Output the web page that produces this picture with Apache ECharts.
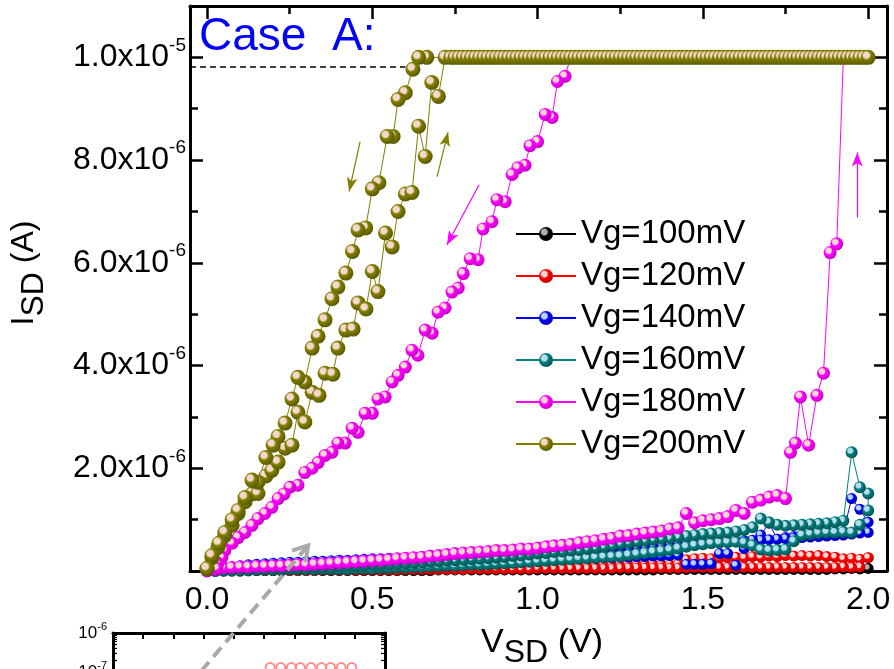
<!DOCTYPE html>
<html><head><meta charset="utf-8">
<script src="https://cdn.jsdelivr.net/npm/echarts@6/dist/echarts.min.js"></script>
<style>html,body{margin:0;padding:0;background:#fff}#c{width:894px;height:669px}</style>
</head><body><div id="c"></div>
<script>
const FONT = 'Liberation Sans, Arial, sans-serif';

// Source-drain voltage sweep grid (V)
const vSweep = [0,0.025,0.05,0.075,0.1,0.125,0.15,0.175,0.2,0.225,0.25,0.275,0.3,0.325,0.35,0.375,0.4,0.425,0.45,0.475,0.5,0.525,0.55,0.575,0.6,0.625,0.65,0.675,0.7,0.725,0.75,0.775,0.8,0.825,0.85,0.875,0.9,0.925,0.95,0.975,1.0,1.025,1.05,1.075,1.1,1.125,1.15,1.175,1.2,1.225,1.25,1.275,1.3,1.325,1.35,1.375,1.4,1.425,1.45,1.475,1.5,1.525,1.55,1.575,1.6,1.625,1.65,1.675,1.7,1.725,1.75,1.775,1.8,1.825,1.85,1.875,1.9,1.925,1.95,1.975,2.0];

const seriesNames = ['Vg=100mV','Vg=120mV','Vg=140mV','Vg=160mV','Vg=180mV','Vg=200mV'];
const xTickLabels = [0, 0.5, 1.0, 1.5, 2.0];
const xMinorTicks = [0.25, 0.75, 1.25, 1.75];
const yTickLabels = [2, 4, 6, 8, 10];   // currents in units of 1e-6 A
const yMinorTicks = [1, 3, 5, 7, 9];

// Currents (units of 1e-6 A) on vSweep
const blackI = [0,0,0,0,0,0.01,0.01,0.01,0.01,0.01,
  0.01,0.01,0.01,0.01,0.01,0.01,0.01,0.01,0.01,0.01,
  0.01,0.01,0.01,0.01,0.01,0.01,0.01,0.01,0.02,0.02,
  0.02,0.02,0.02,0.02,0.02,0.02,0.02,0.02,0.02,0.02,
  0.02,0.02,0.02,0.02,0.02,0.02,0.02,0.02,0.02,0.02,
  0.02,0.02,0.02,0.02,0.02,0.03,0.03,0.03,0.03,0.03,
  0.03,0.03,0.03,0.03,0.03,0.03,0.03,0.03,0.03,0.03,
  0.03,0.03,0.03,0.03,0.03,0.03,0.04,0.04,0.05,0.04,0.05];
const redFwdI = [0,0.01,0.01,0.01,0.01,0.01,0.02,0.02,0.02,0.02,
  0.02,0.02,0.03,0.03,0.03,0.03,0.03,0.03,0.04,0.04,
  0.04,0.04,0.04,0.04,0.05,0.05,0.05,0.05,0.05,0.05,
  0.06,0.06,0.06,0.06,0.06,0.06,0.07,0.07,0.07,0.07,
  0.08,0.08,0.08,0.08,0.09,0.09,0.09,0.09,0.10,0.10,
  0.10,0.11,0.11,0.11,0.12,0.12,0.12,0.13,0.22,0.24,
  0.25,0.24,0.25,0.26,0.27,0.26,0.28,0.27,0.29,0.28,
  0.30,0.29,0.30,0.29,0.30,0.28,0.27,0.24,0.25,0.23,0.26];
const redRevI = [0,0,0.01,0.01,0.01,0.01,0.01,0.01,0.01,0.01,
  0.01,0.01,0.01,0.01,0.02,0.02,0.02,0.02,0.02,0.02,
  0.02,0.02,0.02,0.02,0.03,0.03,0.03,0.03,0.03,0.03,
  0.03,0.03,0.04,0.04,0.04,0.04,0.04,0.04,0.04,0.04,
  0.05,0.05,0.05,0.05,0.05,0.05,0.05,0.05,0.05,0.05,
  0.06,0.06,0.06,0.06,0.06,0.06,0.06,0.06,0.06,0.07,
  0.07,0.07,0.07,0.07,0.07,0.07,0.07,0.07,0.07,0.07,
  0.07,0.07,0.07,0.07,0.07,0.07,0.07,0.08,0.07,0.08,0.26];
const blueFwdI = [0,0.01,0.02,0.03,0.04,0.05,0.05,0.06,0.07,0.07,
  0.08,0.08,0.09,0.09,0.10,0.10,0.11,0.11,0.12,0.12,
  0.13,0.13,0.14,0.14,0.15,0.15,0.16,0.16,0.17,0.17,
  0.18,0.18,0.18,0.19,0.19,0.20,0.20,0.21,0.21,0.21,
  0.22,0.22,0.23,0.23,0.24,0.24,0.25,0.25,0.26,0.26,
  0.27,0.27,0.28,0.28,0.29,0.29,0.30,0.31,0.13,0.13,
  0.13,0.14,0.34,0.34,0.11,0.44,0.52,0.70,0.93,0.62,
  0.65,0.67,0.68,0.70,0.71,0.72,0.73,0.75,1.41,1.20,0.95];
const blueRevI = [0,0.03,0.06,0.08,0.10,0.12,0.13,0.14,0.15,0.16,
  0.17,0.17,0.18,0.19,0.19,0.20,0.21,0.21,0.22,0.23,
  0.24,0.24,0.25,0.25,0.26,0.27,0.27,0.28,0.29,0.29,
  0.30,0.30,0.31,0.32,0.32,0.33,0.34,0.34,0.35,0.36,
  0.37,0.37,0.38,0.39,0.40,0.40,0.41,0.42,0.43,0.44,
  0.45,0.45,0.46,0.47,0.48,0.49,0.50,0.51,0.52,0.53,
  0.54,0.55,0.56,0.57,0.58,0.59,0.60,0.60,0.61,0.62,
  0.63,0.64,0.65,0.66,0.67,0.68,0.69,0.70,0.72,0.74,0.75];
const tealFwdI = [0,0,0.01,0.01,0.01,0.01,0.02,0.02,0.02,0.02,
  0.03,0.03,0.03,0.03,0.04,0.04,0.04,0.04,0.05,0.05,
  0.05,0.06,0.06,0.07,0.07,0.08,0.08,0.09,0.09,0.10,
  0.10,0.11,0.12,0.12,0.13,0.14,0.15,0.16,0.17,0.18,
  0.19,0.20,0.21,0.22,0.23,0.24,0.25,0.26,0.27,0.28,
  0.29,0.31,0.33,0.35,0.37,0.39,0.41,0.44,0.47,0.50,
  0.52,0.54,0.55,0.56,0.57,0.55,0.50,0.42,0.40,0.41,
  0.42,0.58,0.70,0.72,0.74,0.75,0.75,0.76,0.75,0.90,1.18];
const tealRevI = [0,0.01,0.01,0.02,0.02,0.03,0.03,0.04,0.04,0.05,
  0.05,0.06,0.06,0.07,0.08,0.08,0.09,0.10,0.10,0.11,
  0.12,0.12,0.13,0.14,0.15,0.16,0.17,0.18,0.19,0.20,
  0.21,0.22,0.23,0.24,0.25,0.26,0.27,0.29,0.30,0.32,
  0.34,0.35,0.37,0.38,0.40,0.41,0.43,0.45,0.47,0.50,
  0.53,0.55,0.57,0.59,0.61,0.63,0.64,0.66,0.68,0.70,
  0.72,0.73,0.74,0.75,0.77,0.80,0.85,1.02,0.95,0.90,
  0.88,0.89,0.90,0.91,0.92,0.93,0.95,0.98,2.31,1.63,1.51];

// Vg=180mV: forward low branch on vSweep[0..70]
const magentaFwdI = [0.00,0.03,0.06,0.07,0.08,0.08,0.09,0.09,0.10,0.10,
  0.11,0.12,0.12,0.13,0.14,0.15,0.16,0.17,0.18,0.19,
  0.20,0.21,0.22,0.24,0.25,0.26,0.27,0.29,0.30,0.32,
  0.34,0.35,0.36,0.37,0.38,0.40,0.40,0.41,0.43,0.43,
  0.45,0.47,0.49,0.50,0.52,0.55,0.57,0.59,0.62,0.64,
  0.68,0.69,0.72,0.74,0.76,0.78,0.82,0.84,1.12,0.94,
  0.98,1.00,1.02,1.06,1.18,1.12,1.34,1.38,1.44,1.47,
  1.41];
const magentaJump = [[1.765,2.31],[1.78,2.49],[1.795,3.39],[1.82,2.45],[1.845,3.42],[1.865,3.85],[1.885,6.20],[1.905,6.37],[1.925,10.0],[1.95,10.0],[1.975,10.0],[2.0,10.0]];
const magentaSatV = [1.975,1.95,1.925,1.9,1.875,1.85,1.825,1.8,1.775,1.75,1.725,1.7,1.675,1.65,1.625,1.6,1.575,1.55,1.525,1.5,1.475,1.45,1.425,1.4,1.375,1.35,1.325,1.3,1.275,1.25,1.225,1.2,1.175,1.15,1.125,1.1];
const magentaDown = [[1.083,9.63],[1.06,9.53],[1.044,8.83],[1.023,8.89],[1.0,8.36],[0.977,8.28],[0.962,7.90],[0.94,7.85],[0.923,7.72],[0.902,7.19],[0.877,7.23],[0.862,6.80],[0.835,6.66],[0.82,6.06],[0.796,6.08],[0.775,5.79],[0.76,5.51],[0.741,5.43],[0.72,5.12],[0.699,5.04],[0.681,4.63],[0.66,4.69],[0.638,4.20],[0.62,4.30],[0.6,3.97],[0.578,3.81],[0.56,3.68],[0.539,3.39],[0.517,3.35],[0.5,3.07],[0.478,3.07],[0.457,2.70],[0.439,2.78],[0.418,2.49],[0.396,2.49],[0.378,2.31],[0.357,2.25],[0.336,2.11],[0.318,2.00],[0.296,1.92],[0.275,1.67],[0.251,1.63],[0.233,1.50],[0.215,1.41],[0.196,1.24],[0.175,1.12],[0.154,1.02],[0.136,0.89],[0.115,0.75],[0.094,0.65],[0.076,0.54],[0.054,0.40],[0.045,0.26],[0.033,0.15],[0.03,0.05]];

// Vg=200mV
const oliveUp = [[0.0,0.05],[0.015,0.26],[0.033,0.46],[0.054,0.69],[0.076,0.89],[0.094,1.12],[0.115,1.35],[0.136,1.50],[0.154,1.51],[0.178,1.85],[0.196,1.96],[0.215,2.12],[0.236,2.39],[0.257,2.45],[0.275,3.09],[0.296,2.90],[0.318,3.48],[0.339,3.42],[0.357,3.85],[0.381,3.83],[0.396,4.34],[0.42,4.69],[0.442,4.71],[0.457,5.22],[0.481,5.10],[0.5,5.83],[0.517,5.44],[0.54,6.58],[0.56,6.31],[0.578,7.00],[0.6,7.34],[0.62,7.37],[0.64,8.66],[0.66,8.07],[0.68,9.51],[0.7,9.24],[0.72,10.0]];
const oliveSatV = [0.7375,0.75,0.7625,0.775,0.7875,0.8,0.8125,0.825,0.8375,0.85,0.8625,0.875,0.8875,0.9,0.9125,0.925,0.9375,0.95,0.9625,0.975,0.9875,1.0,1.0125,1.025,1.0375,1.05,1.0625,1.075,1.0875,1.1,1.1125,1.125,1.1375,1.15,1.1625,1.175,1.1875,1.2,1.2125,1.225,1.2375,1.25,1.2625,1.275,1.2875,1.3,1.3125,1.325,1.3375,1.35,1.3625,1.375,1.3875,1.4,1.4125,1.425,1.4375,1.45,1.4625,1.475,1.4875,1.5,1.5125,1.525,1.5375,1.55,1.5625,1.575,1.5875,1.6,1.6125,1.625,1.6375,1.65,1.6625,1.675,1.6875,1.7,1.7125,1.725,1.7375,1.75,1.7625,1.775,1.7875,1.8,1.8125,1.825,1.8375,1.85,1.8625,1.875,1.8875,1.9,1.9125,1.925,1.9375,1.95,1.9625,1.975,1.9875,2.0];
const oliveDown = [[0.665,10.0],[0.64,10.0],[0.623,9.77],[0.6,9.31],[0.578,9.18],[0.563,8.46],[0.545,8.46],[0.52,7.56],[0.5,7.44],[0.48,6.68],[0.457,6.64],[0.44,6.22],[0.42,5.80],[0.396,5.53],[0.378,5.30],[0.357,4.89],[0.336,4.57],[0.318,4.34],[0.296,3.68],[0.275,3.77],[0.257,3.35],[0.236,2.88],[0.215,2.62],[0.2,2.45],[0.178,2.21],[0.154,1.73],[0.136,1.77],[0.115,1.43],[0.094,1.18],[0.076,1.00],[0.054,0.75],[0.036,0.54],[0.015,0.30],[0.0,0.05]];
const complianceI = 10.0;   // current compliance level read from the plateau
const complianceLine = 9.82; // dashed guide level

// Inset (log scale) visible points
const insetV = [0.52,0.555,0.59,0.62,0.655,0.69,0.72,0.755,0.79];
const insetI = [1.3e-7,1.3e-7,1.3e-7,1.3e-7,1.3e-7,1.3e-7,1.3e-7,1.3e-7,1.3e-7];

// Annotation arrows (data coordinates)
const oliveArrows = [[[0.463,8.36],[0.430,7.39]], [[0.696,7.68],[0.729,8.54]]];
const magentaArrows = [[[0.823,7.52],[0.726,6.35]], [[1.967,6.88],[1.967,8.15]]];
const grayArrowTip = [0.306, 0.5];     // main axes
const grayArrowTail = [0.21, 1.9e-8];  // inset axes

function pairs(v, i) { return i.map((c, k) => [v[k], c]); }
function sweep(fwd, rev) { return pairs(vSweep, fwd).concat(pairs(vSweep, rev).reverse()); }

const blackData = pairs(vSweep, blackI);
const redData = sweep(redFwdI, redRevI);
const blueData = sweep(blueFwdI, blueRevI);
const tealData = sweep(tealFwdI, tealRevI);
const magentaData = pairs(vSweep, magentaFwdI).concat(magentaJump, magentaSatV.map(v => [v, complianceI]), magentaDown);
const oliveData = oliveUp.concat(oliveSatV.map(v => [v, complianceI]), oliveDown);

function ball(base, hl, dark) {
  return { type: 'radial', x: 0.38, y: 0.36, r: 0.64, colorStops: [
    { offset: 0, color: hl }, { offset: 0.3, color: hl }, { offset: 0.48, color: base }, { offset: 1, color: dark } ] };
}

const X_MIN = -0.0515, X_MAX = 2.057, Y_MIN = 0, Y_MAX = 11;
const axisLineStyle = { lineStyle: { color: '#000', width: 3 } };

function xAx(pos, ticks, len, showLine, labels) {
  return { type: 'value', gridIndex: 0, position: pos, min: X_MIN, max: X_MAX,
    axisLine: { show: showLine, onZero: false, ...axisLineStyle },
    axisTick: { show: true, inside: true, length: len, customValues: ticks, lineStyle: { color: '#000', width: 2.5 } },
    axisLabel: labels ? { show: true, customValues: xTickLabels, formatter: v => v.toFixed(1), fontSize: 32, fontFamily: FONT, color: '#000', margin: 13 } : { show: false },
    splitLine: { show: false } };
}
function yAx(pos, ticks, len, showLine, labels) {
  return { type: 'value', gridIndex: 0, position: pos, min: Y_MIN, max: Y_MAX,
    axisLine: { show: showLine, onZero: false, ...axisLineStyle },
    axisTick: { show: true, inside: true, length: len, customValues: ticks, lineStyle: { color: '#000', width: 2.5 } },
    axisLabel: labels ? { show: true, customValues: yTickLabels, margin: 4,
      formatter: v => { const e = Math.floor(Math.log10(v) + 1e-9); const m = v / Math.pow(10, e); return '{m|' + m.toFixed(1) + 'x10}{e|' + (e - 6) + '}'; },
      rich: { m: { fontSize: 32, fontFamily: FONT, color: '#000' }, e: { fontSize: 19, fontFamily: FONT, color: '#000', padding: [0, 0, 24, 0] } } } : { show: false },
    splitLine: { show: false } };
}

function lineSeries(name, data, color, hl, dark, size) {
  return { name, type: 'line', xAxisIndex: 0, yAxisIndex: 0, data, symbol: 'circle', symbolSize: size,
    showAllSymbol: true, lineStyle: { width: 1, color }, itemStyle: { color: ball(color, hl, dark) },
    emphasis: { disabled: true }, z: 2 };
}
function arrowMarks(list) {
  return list.map(a => [{ coord: a[0] }, { coord: a[1] }]);
}

const sBlack = lineSeries(seriesNames[0], blackData, '#000000', '#b0b0b0', '#000000', 11);
const sRed = lineSeries(seriesNames[1], redData, '#ff0000', '#ffd6d6', '#c80000', 11);
const sBlue = lineSeries(seriesNames[2], blueData, '#0000ff', '#b8d4ff', '#0000b0', 11);
const sTeal = lineSeries(seriesNames[3], tealData, '#008080', '#b8dcec', '#005555', 12);
const sMag = lineSeries(seriesNames[4], magentaData, '#ff00ff', '#f5d8cc', '#c800c8', 13);
sMag.markLine = { silent: true, animation: false, symbol: ['none', 'arrow'], symbolSize: [8, 14], label: { show: false },
  lineStyle: { color: '#ff00ff', width: 1.2, type: 'solid' }, emphasis: { disabled: true }, data: arrowMarks(magentaArrows) };
const sOlive = lineSeries(seriesNames[5], oliveData, '#808000', '#f5d8cc', '#5a5a00', 15);
sOlive.markLine = { silent: true, animation: false, symbol: ['none', 'arrow'], symbolSize: [8, 14], label: { show: false },
  lineStyle: { color: '#808000', width: 1.2, type: 'solid' }, emphasis: { disabled: true },
  data: arrowMarks(oliveArrows).concat([[{ coord: [X_MIN, complianceLine], symbol: 'none', lineStyle: { color: '#000', width: 1.5, type: [6, 4] } }, { coord: [0.6, complianceLine], symbol: 'none' }]]) };

const insetSeries = { type: 'line', xAxisIndex: 4, yAxisIndex: 4, data: pairs(insetV, insetI), symbol: 'emptyCircle', symbolSize: 9,
  lineStyle: { width: 0, opacity: 0 }, itemStyle: { color: '#ff8c8c', borderWidth: 1.5 }, emphasis: { disabled: true } };

function insetY(pos, labels) {
  return { type: 'log', gridIndex: 1, position: pos, min: 1e-9, max: 1e-6, logBase: 10,
    axisLine: { show: true, onZero: false, ...axisLineStyle },
    axisTick: { show: true, inside: true, length: 7, lineStyle: { color: '#000', width: 2 } },
    minorTick: { show: true, splitNumber: 9, length: 4, lineStyle: { color: '#000', width: 1.2 } },
    axisLabel: labels ? { show: true, margin: 6, formatter: v => '{m|10}{e|' + Math.round(Math.log10(v)) + '}',
      rich: { m: { fontSize: 17, fontFamily: FONT, color: '#000' }, e: { fontSize: 11, fontFamily: FONT, color: '#000', padding: [0, 0, 12, 0] } } } : { show: false },
    splitLine: { show: false } };
}
function insetX(pos) {
  return { type: 'value', gridIndex: 1, position: pos, min: 0, max: 0.9, interval: 0.1,
    axisLine: { show: true, onZero: false, ...axisLineStyle },
    axisTick: { show: true, inside: true, length: 6, lineStyle: { color: '#000', width: 2 } },
    axisLabel: { show: false }, splitLine: { show: false } };
}

const titleGraphics = [
  { type: 'text', x: 24, y: 273, rotation: Math.PI / 2, z: 50,
    style: { text: '{m|I}{s|SD}{m| (A)}', align: 'center', verticalAlign: 'middle',
      rich: { m: { fontSize: 32, fontFamily: FONT, fill: '#000' }, s: { fontSize: 32, fontFamily: FONT, fill: '#000', padding: [20, 0, 0, 0] } } } },
  { type: 'text', x: 542, y: 643, z: 50,
    style: { text: '{m|V}{s|SD}{m| (V)}', align: 'center', verticalAlign: 'middle',
      rich: { m: { fontSize: 34, fontFamily: FONT, fill: '#000' }, s: { fontSize: 32, fontFamily: FONT, fill: '#000', padding: [20, 0, 0, 0] } } } }
];

const option = {
  animation: false,
  backgroundColor: '#ffffff',
  title: { text: 'Case  A:', left: 199, top: 14, padding: 0,
    textStyle: { fontSize: 46, fontWeight: 'normal', fontFamily: FONT, color: '#0000ff' } },
  legend: { data: seriesNames, orient: 'vertical', left: 510, top: 212, itemWidth: 60, itemHeight: 17.5, itemGap: 8,
    selectedMode: false, textStyle: { fontSize: 33, fontFamily: FONT, color: '#000', lineHeight: 34 } },
  grid: [
    { left: 190, top: 6, right: 7, bottom: 98, containLabel: false, outerBoundsMode: 'none' },
    { left: 113, top: 633, width: 272, height: 117, containLabel: false, outerBoundsMode: 'none' }
  ],
  xAxis: [
    xAx('bottom', xTickLabels, 13, true, true),
    xAx('top', xTickLabels, 13, true, false),
    xAx('bottom', xMinorTicks, 8, false, false),
    xAx('top', xMinorTicks, 8, false, false),
    insetX('top'), insetX('bottom')
  ],
  yAxis: [
    yAx('left', yTickLabels, 13, true, true),
    yAx('right', yTickLabels, 13, true, false),
    yAx('left', yMinorTicks, 8, false, false),
    yAx('right', yMinorTicks, 8, false, false),
    insetY('left', true), insetY('right', false)
  ],
  series: [sBlack, sRed, sBlue, sTeal, sMag, sOlive, insetSeries],
  graphic: titleGraphics
};

const chart = echarts.init(document.getElementById('c'), null, { renderer: 'canvas' });
chart.setOption(option);

const tip = chart.convertToPixel({ xAxisIndex: 0, yAxisIndex: 0 }, grayArrowTip);
const tail = chart.convertToPixel({ xAxisIndex: 4, yAxisIndex: 4 }, grayArrowTail);
const ang = Math.atan2(tip[1] - tail[1], tip[0] - tail[0]);
const head = 17, spread = 0.55;
const p1 = [tip[0] - head * Math.cos(ang - spread), tip[1] - head * Math.sin(ang - spread)];
const p2 = [tip[0] - head * Math.cos(ang + spread), tip[1] - head * Math.sin(ang + spread)];
chart.setOption({ graphic: titleGraphics.concat([
  { type: 'line', z: 40, shape: { x1: tail[0], y1: tail[1], x2: tip[0] - 2 * Math.cos(ang), y2: tip[1] - 2 * Math.sin(ang) },
    style: { stroke: '#a9a9a9', lineWidth: 4, lineDash: [12, 7] } },
  { type: 'polyline', z: 40, shape: { points: [p1, tip, p2] }, style: { stroke: '#a9a9a9', lineWidth: 4, fill: null } }
]) });
</script>
</body></html>
